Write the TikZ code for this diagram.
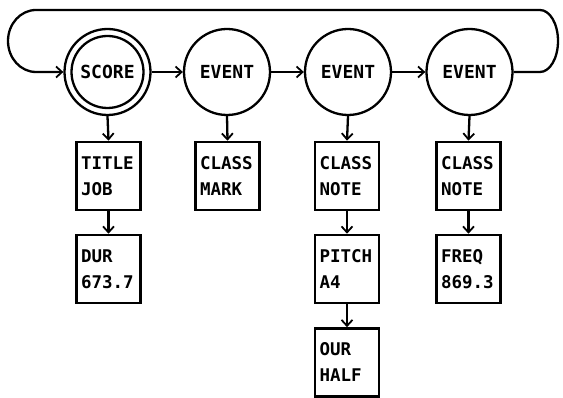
\documentclass[tikz,border=0pt]{standalone}
\usepackage{fontspec}
\newfontfamily\plotfont{DejaVu Sans Mono}
\usetikzlibrary{arrows.meta}
\tikzset{
  x=1pt, y=1pt,
  line/.style={line width=2.3pt},
  arr/.style={line, -{Straight Barb[length=6pt,width=11pt,line width=1.8pt]}},
  circ/.style={circle, draw, line, minimum size=86pt, inner sep=0pt,
    font=\plotfont\bfseries\fontsize{18}{20}\selectfont},
  rec/.style={rectangle, draw, line width=2.6pt, minimum width=64pt, minimum height=68pt,
    inner sep=0pt, text width=55pt, align=left,
    font=\plotfont\bfseries\fontsize{17.5}{26}\selectfont},
}
\begin{document}
\begin{tikzpicture}
\useasboundingbox (0,0) rectangle (563,-398);
% circles
\node[circ] (score) at (107.5,-72) {SCORE};
\draw[line] (score.center) circle[radius=36];
\node[circ] (e1) at (227,-72) {EVENT};
\node[circ] (e2) at (348,-72) {EVENT};
\node[circ] (e3) at (469.5,-72) {EVENT};
% boxes
\node[rec] (title) at (108.5,-176) {TITLE\\JOB};
\node[rec] (dur1) at (108.5,-269) {DUR\\673.7};
\node[rec] (mark) at (227.5,-176) {CLASS\\MARK};
\node[rec] (note1) at (347,-176) {CLASS\\NOTE};
\node[rec] (pitch) at (347,-269) {PITCH\\A4};
\node[rec] (dur2) at (347,-362.5) {OUR\\HALF};
\node[rec] (note2) at (468.5,-176) {CLASS\\NOTE};
\node[rec] (freq) at (468.5,-269) {FREQ\\869.3};
% horizontal arrows
\draw[arr] (score) -- (e1);
\draw[arr] (e1) -- (e2);
\draw[arr] (e2) -- (e3);
% loop
\coordinate (r0) at (540,-72);
\draw[arr] (e3.east) -- (r0) arc[start angle=-90, end angle=90, x radius=18, y radius=31]
  -- (36,-10) arc[start angle=90, end angle=270, x radius=28, y radius=31] -- (score.west);
% vertical arrows
\draw[arr] (score.south) -- (title.north);
\draw[arr] (title.south) -- (dur1.north);
\draw[arr] (e1.south) -- (mark.north);
\draw[arr] (e2.south) -- (note1.north);
\draw[arr] (note1.south) -- (pitch.north);
\draw[arr] (pitch.south) -- (dur2.north);
\draw[arr] (e3.south) -- (note2.north);
\draw[arr] (note2.south) -- (freq.north);
\end{tikzpicture}
\end{document}
